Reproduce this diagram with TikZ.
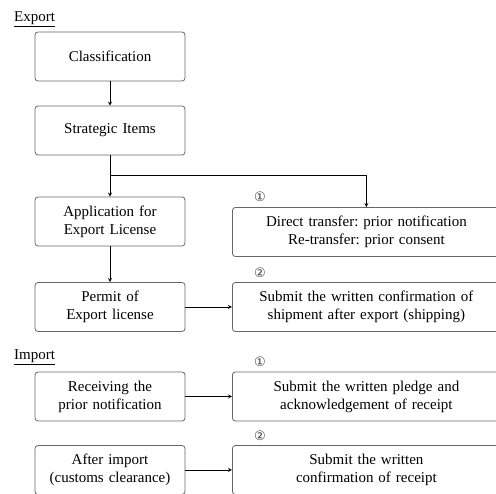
\documentclass[tikz,border=0pt]{standalone}
\usepackage{fontspec}
\setmainfont{Liberation Serif}
\newfontfamily\circfont{DejaVu Sans}
\usepackage{xcolor}
\usepackage{tikz}
\usetikzlibrary{arrows, positioning}
\frenchspacing
\tikzstyle{arrow} = [thick,->,>=stealth]
\tikzstyle{block} = [rectangle, draw=black!60, line width=0.8pt, text width=146pt, align=center, rounded corners=3pt, minimum width=150pt, minimum height=49pt, inner sep=2pt, font=\fontsize{15}{18}\selectfont]
\tikzstyle{wide} = [block, text width=262pt, minimum width=268pt]
\tikzstyle{title} = [anchor=base west, inner sep=0pt, font=\fontsize{15}{18}\selectfont]
\tikzstyle{num} = [inner sep=0pt, text=black!75, font=\circfont\fontsize{13}{15}\selectfont]

\begin{document}
\begin{tikzpicture}[x=1pt, y=1pt]
    \useasboundingbox (0,0) rectangle (496,-494);
    % Export
    \node (export) [title] at (14,-22) {\underline{Export}};
    \node (class) [block] at (110,-56.5) {Classification};
    \node (strategic) [block, below of=class, node distance=74pt] {Strategic Items};
    \node (application) [block, below of=strategic, node distance=91pt] {Application for\\Export License};
    \node (permit) [block, below of=application, node distance=85.5pt] {Permit of\\Export license};
    \node (transfer) [wide, anchor=west] at (232,-232) {Direct transfer: prior notification\\Re-transfer: prior consent};
    \node (shipment) [wide, below of=transfer, node distance=75pt] {Submit the written confirmation of\\shipment after export (shipping)};
    \node (numA) [num] at (260,-197) {①};
    \node (numB) [num] at (260,-273) {②};
    \coordinate (split) at (110,-175);

    % Import
    \node (import) [title] at (14,-360) {\underline{Import}};
    \node (receiving) [block] at (110,-396.5) {Receiving the\\prior notification};
    \node (after) [block, below of=receiving, node distance=73.5pt] {After import\\(customs clearance)};
    \node (pledge) [wide, anchor=west] at (232,-396.5) {Submit the written pledge and\\acknowledgement of receipt};
    \node (receipt) [wide, below of=pledge, node distance=73.5pt] {Submit the written\\confirmation of receipt};
    \node (numC) [num] at (260,-362) {①};
    \node (numD) [num] at (260,-436) {②};

    % Arrows
    \draw [arrow] (class) -- (strategic);
    \draw [arrow] (strategic) -- (application);
    \draw [arrow] (split) -| (transfer);
    \draw [arrow] (application) -- (permit);
    \draw [arrow] (permit) -- (shipment);
    \draw [arrow] (receiving) -- (pledge);
    \draw [arrow] (after) -- (receipt);
\end{tikzpicture}
\end{document}
